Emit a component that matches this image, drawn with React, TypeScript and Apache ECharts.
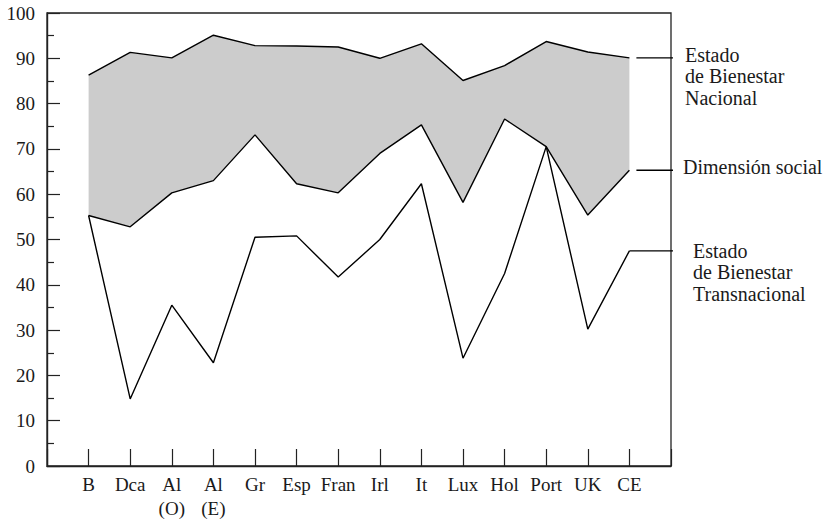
import React, { useEffect, useRef } from "react";
import * as echarts from "echarts";

const categories = ["B", "Dca", "Al\n(O)", "Al\n(E)", "Gr", "Esp", "Fran", "Irl", "It", "Lux", "Hol", "Port", "UK", "CE"];
const nacional = [86.3, 91.3, 90.1, 95.1, 92.8, 92.7, 92.5, 90.0, 93.2, 85.1, 88.4, 93.7, 91.4, 90.1];
const social = [55.3, 52.8, 60.3, 63.0, 73.1, 62.3, 60.3, 69.0, 75.3, 58.2, 76.6, 70.5, 55.4, 65.3];
const transnacional = [55.3, 14.8, 35.5, 22.8, 50.5, 50.8, 41.7, 50.0, 62.3, 23.8, 42.5, 70.5, 30.2, 47.5];
const seriesLabels = ["Estado\nde Bienestar\nNacional", "Dimensión social", "Estado\nde Bienestar\nTransnacional"];
const yMin = 0;
const yMax = 100;
const yInterval = 10;

const FONT = "'Liberation Serif', 'Times New Roman', serif";
const INK = "#1a1a1a";

export default function App() {
  const ref = useRef<HTMLDivElement>(null);
  useEffect(() => {
    if (!ref.current) return;
    const chart = echarts.init(ref.current, null, { renderer: "svg" });
    const n = categories.length;
    // padded category slots at both ends so the plot box extends one step beyond B and CE
    const axisCats = ["", ...categories, ""];
    const pad = (arr: (number | null)[]) => [null, ...arr, null];
    const diff = nacional.map((v, i) => +(v - social[i]).toFixed(2));
    const lineStyle = { color: "#000", width: 1.4 };

    chart.setOption({
      animation: false,
      grid: {
        left: 47,
        right: 159,
        top: 13,
        bottom: 56,
        show: true,
        borderColor: "#222",
        borderWidth: 1.3,
        backgroundColor: "transparent",
      },
      xAxis: {
        type: "category",
        data: axisCats,
        boundaryGap: false,
        axisLine: { show: true, lineStyle: { color: "#222", width: 1.3 } },
        axisTick: { show: true, inside: true, length: 17, interval: 0, lineStyle: { color: "#222", width: 1.2 } },
        splitLine: { show: false },
        axisLabel: {
          show: true,
          interval: 0,
          margin: 6,
          fontFamily: FONT,
          fontSize: 19,
          lineHeight: 24,
          color: INK,
        },
      },
      yAxis: {
        type: "value",
        min: yMin,
        max: yMax,
        interval: yInterval,
        axisLine: { show: true, lineStyle: { color: "#222", width: 1.4 } },
        axisTick: { show: true, inside: true, length: 13, lineStyle: { color: "#222", width: 1.2 } },
        minorTick: { show: true, splitNumber: 2, length: 7, lineStyle: { color: "#222", width: 1.2 } },
        splitLine: { show: false },
        minorSplitLine: { show: false },
        axisLabel: { margin: 12, fontFamily: FONT, fontSize: 19, color: INK },
      },
      series: [
        {
          name: "Dimensión social",
          type: "line",
          stack: "g",
          data: pad(social),
          symbol: "none",
          lineStyle,
          z: 3,
        },
        {
          name: "Estado de Bienestar Nacional",
          type: "line",
          stack: "g",
          data: pad(diff),
          symbol: "none",
          lineStyle,
          areaStyle: { color: "#cccccc", opacity: 1 },
          z: 2,
        },
        {
          name: "Estado de Bienestar Transnacional",
          type: "line",
          data: pad(transnacional),
          symbol: "none",
          lineStyle,
          z: 4,
        },
      ],
    });

    const px = (x: number, y: number) => chart.convertToPixel({ gridIndex: 0 }, [x, y]) as number[];
    const endVals = [nacional[n - 1], social[n - 1], transnacional[n - 1]];
    const gaps = [7, 7, 0];
    const textDx = [14, 12, 22];
    const textDy = [-3, -3, 0];
    const [xRight] = px(n + 1, 0);
    const graphic: any[] = [];
    endVals.forEach((v, k) => {
      const [cx, cy] = px(n, v);
      graphic.push({
        type: "line",
        shape: { x1: cx + gaps[k], y1: cy, x2: xRight + 2, y2: cy },
        style: { stroke: "#000", lineWidth: 1.4 },
        z: 10,
      });
      graphic.push({
        type: "text",
        x: xRight + textDx[k],
        y: cy + textDy[k] - 10.75,
        style: {
          text: seriesLabels[k],
          fontFamily: FONT,
          fontSize: 20,
          lineHeight: 21.5,
          fill: INK,
          textAlign: "left",
          textVerticalAlign: "top",
        },
        z: 10,
      });
    });
    chart.setOption({ graphic });

    return () => chart.dispose();
  }, []);
  return <div ref={ref} style={{ position: "absolute", left: 0, top: 0, width: 830, height: 522 }} />;
}
